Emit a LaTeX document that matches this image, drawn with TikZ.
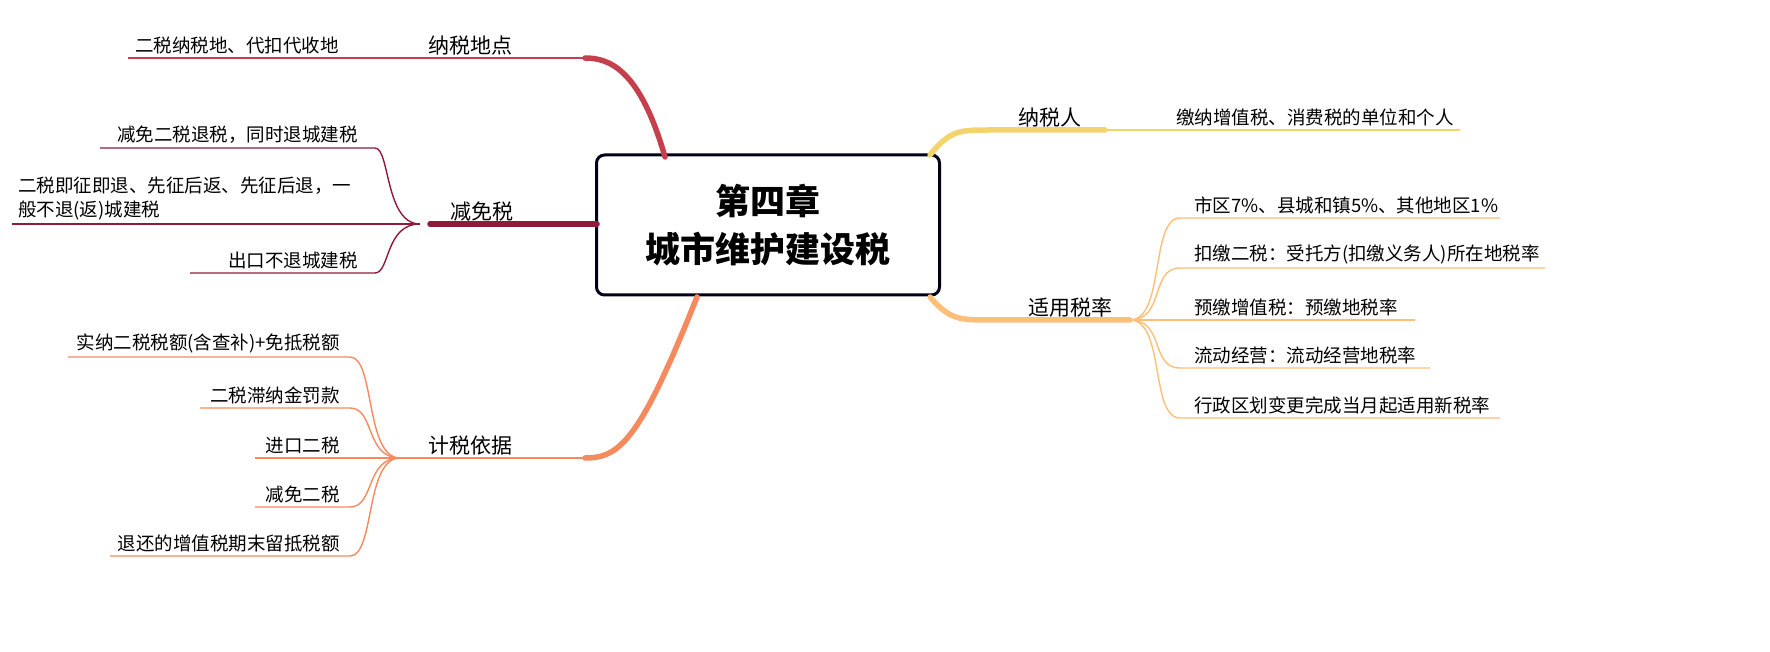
\documentclass[tikz,border=0pt]{standalone}
\usepackage{fontspec}
\setmainfont{Noto Sans CJK SC}
\definecolor{cPlace}{HTML}{C4404C}
\definecolor{cFree}{HTML}{8E1B3A}
\definecolor{cBase}{HTML}{F58A5E}
\definecolor{cWho}{HTML}{F2D46A}
\definecolor{cRate}{HTML}{FDBF78}
\tikzset{
  leaf/.style={font=\fontsize{18.5}{24}\selectfont, inner sep=2pt},
  topic/.style={font=\fontsize{21}{24}\selectfont, inner sep=3pt},
  twig/.style={line width=1.4pt},
  bough/.style={line width=5.5pt, line cap=round},
}
\begin{document}
\begin{tikzpicture}[x=1pt,y=-1pt]
  \useasboundingbox (0,0) rectangle (1770,652);
  % centre
  \node[draw=black!90!blue, line width=3pt, rounded corners=8pt, minimum width=343pt, minimum height=140pt,
        align=center, font=\fontsize{35}{48}\selectfont\bfseries] (root) at (768,225) {第四章\\城市维护建设税};
  % 纳税地点
  \node[topic, above] (place) at (470,58) {纳税地点};
  \draw[cPlace, bough] (665,157) .. controls (640,70) and (610,58) .. (585,58);
  \draw[cPlace, twig] (585,58) -- (128,58);
  \node[leaf, anchor=south] (pl1) at (237,56) {二税纳税地、代扣代收地};
  % 减免税
  \node[topic, above] (free) at (482,224) {减免税};
  \draw[cFree, bough] (597,224) -- (430,224);
  \coordinate (f0) at (420,224);
  \draw[cFree, twig] (f0) -- (12,224);
  \node[leaf, anchor=south west, align=left] (fr2) at (16,222) {二税即征即退、先征后返、先征后退，一\\般不退(返)城建税};
  \foreach \y/\w/\t [count=\i] in {148/100/减免二税退税，同时退城建税, 273/190/出口不退城建税}{
    \draw[cFree, twig] (f0) .. controls (385,224) and (390,\y) .. (375,\y) -- (\w,\y);
    \node[leaf, anchor=south east] (fr\i) at (360,\y-2) {\t};
  }
  % 计税依据
  \node[topic, above] (base) at (470,458) {计税依据};
  \draw[cBase, bough] (697,297) .. controls (640,440) and (620,458) .. (585,458);
  \coordinate (b0) at (400,458);
  \draw[cBase, twig] (585,458) -- (b0);
  \foreach \y/\w/\t [count=\i] in {357/68/实纳二税税额(含查补)+免抵税额, 408/200/二税滞纳金罚款,
      458/255/进口二税, 507/255/减免二税, 556/110/退还的增值税期末留抵税额}{
    \draw[cBase, twig] (b0) .. controls (365,458) and (375,\y) .. (350,\y) -- (\w,\y);
    \node[leaf, anchor=south east] (ba\i) at (342,\y-2) {\t};
  }
  % 纳税人
  \node[topic, above] (who) at (1050,130) {纳税人};
  \draw[cWho, bough] (930,155) .. controls (950,130) and (960,130) .. (990,130) -- (1105,130);
  \draw[cWho, twig] (1105,130) -- (1460,130);
  \node[leaf, anchor=south] (wh1) at (1315,128) {缴纳增值税、消费税的单位和个人};
  % 适用税率
  \node[topic, above] (rate) at (1070,320) {适用税率};
  \draw[cRate, bough] (930,297) .. controls (950,320) and (960,320) .. (990,320) -- (1130,320);
  \coordinate (r0) at (1130,320);
  \foreach \y/\w/\t [count=\i] in {218/1500/市区7\%、县城和镇5\%、其他地区1\%, 268/1545/扣缴二税：受托方(扣缴义务人)所在地税率,
      320/1415/预缴增值税：预缴地税率, 368/1430/流动经营：流动经营地税率, 418/1500/行政区划变更完成当月起适用新税率}{
    \draw[cRate, twig] (r0) .. controls (1165,320) and (1150,\y) .. (1180,\y) -- (\w,\y);
    \node[leaf, anchor=south west] (ra\i) at (1192,\y-2) {\t};
  }
\end{tikzpicture}
\end{document}
